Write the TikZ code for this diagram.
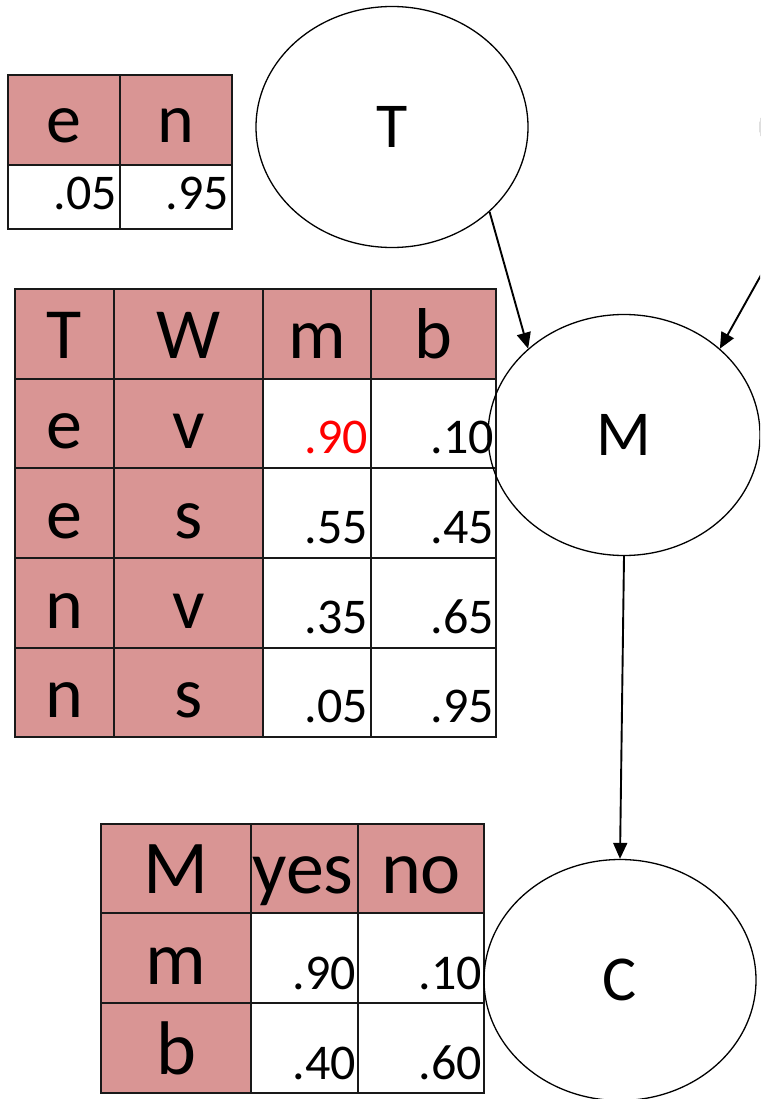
\documentclass[tikz,border=0pt]{standalone}
\usepackage{fontspec}
\setmainfont{Carlito}
\usetikzlibrary{arrows.meta, shapes.geometric, positioning}
\definecolor{cpthead}{RGB}{217,149,148}
\tikzset{var/.style={ellipse, draw, line width=1.3pt, minimum width=272pt,
    minimum height=241pt, inner sep=0pt, font=\fontsize{64}{70}\selectfont},
    link/.style={draw, line width=1.9pt, -{Triangle[length=16pt,width=14pt]}}}

\begin{document}
\begin{tikzpicture}[x=1pt, y=-1pt,
    rule/.style={line width=1.8pt, black!90},
    head/.style={anchor=base, inner sep=0pt, font=\fontsize{72}{80}\selectfont},
    prob/.style={anchor=base east, inner sep=0pt, font=\fontsize{50}{56}\selectfont}]
    \useasboundingbox (0,0) rectangle (760,1099);
    \clip (0,0) rectangle (760,1099);

    % Prior table for T
    \fill[cpthead] (8,75) rectangle (232,165);
    \draw[rule] (8,75) rectangle (232,229);
    \draw[rule] (120,75) -- (120,229);
    \draw[rule] (8,165) -- (232,165);
    \foreach \t/\x in {e/64, n/176}
        \node[head, font=\fontsize{70}{76}\selectfont] (pt-\t) at (\x,143) {\t};
    \foreach \p/\x [count=\i] in {.05/117, .95/229}
        \node[prob] (pv-\i) at (\x,210) {\p};

    % Conditional table for M given T and W
    \fill[cpthead] (15,289) rectangle (496,379);
    \fill[cpthead] (15,379) rectangle (263,737);
    \draw[rule] (15,289) rectangle (496,737);
    \foreach \x in {114,263,371} \draw[rule] (\x,289) -- (\x,737);
    \foreach \y in {379,468,558,648} \draw[rule] (15,\y) -- (496,\y);
    \foreach \t/\x [count=\i] in {T/64.5, W/188.5, m/317, b/433.5}
        \node[head] (mh-\i) at (\x,358) {\t};
    \foreach \r/\t/\w/\m/\b [count=\i] in {468/e/v/{\color{red}.90}/.10,
        558/e/s/.55/.45, 648/n/v/.35/.65, 737/n/s/.05/.95}{
        \node[head] (mt-\i) at (64.5,\r-20) {\t};
        \node[head] (mw-\i) at (188.5,\r-20) {\w};
        \node[prob] (mm-\i) at (368,\r-15) {\m};
        \node[prob] (mb-\i) at (494,\r-15) {\b};
    }

    % Conditional table for C given M
    \fill[cpthead] (101,824) rectangle (484,913);
    \fill[cpthead] (101,913) rectangle (251,1093);
    \draw[rule] (101,824) rectangle (484,1093);
    \foreach \x in {251,358} \draw[rule] (\x,824) -- (\x,1093);
    \foreach \y in {913,1003} \draw[rule] (101,\y) -- (484,\y);
    \foreach \t/\x [count=\i] in {M/176, yes/303, no/421}
        \node[head, font=\fontsize{76}{84}\selectfont] (ch-\i) at (\x,893) {\t};
    \foreach \r/\t/\y/\n [count=\i] in {1003/m/.90/.10, 1093/b/.40/.60}{
        \node[head, font=\fontsize{76}{84}\selectfont] (cm-\i) at (176,\r-19) {\t};
        \node[prob] (cy-\i) at (356,\r-14) {\y};
        \node[prob] (cn-\i) at (482,\r-14) {\n};
    }

    % Network
    \node[var] (T) at (392,127) {T};
    \node[var] (W) at (896.5,127) {};
    \node[var] (M) at (624,435) {M};
    \node[var] (C) at (620,980) {C};

    \draw[link] (T.-41) -- (M.138);
    \draw[link] (W.220) -- (M.42);
    \draw[link] (M.south) -- (C.north);
\end{tikzpicture}
\end{document}
